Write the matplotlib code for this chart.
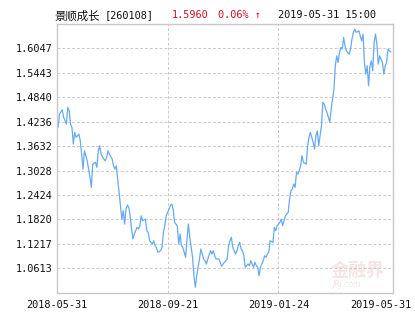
import matplotlib
matplotlib.use("Agg")
import matplotlib.pyplot as plt
import matplotlib.transforms as mtransforms

# trading day index (0 = 2018-05-31) and unit NAV
days = [0, 1, 2, 4, 5, 7, 8, 9, 10, 11, 12, 13, 14, 16, 17, 18, 19, 20, 22, 23,
        24, 25, 26, 28, 29, 30, 31, 32, 34, 35, 36, 37, 38, 40, 41, 42,
        43, 44, 45, 46, 47, 48, 49, 50, 51, 52,
        53, 54, 55, 56, 58, 59, 60, 61, 62, 64, 65, 66, 67, 69, 70, 71, 72, 73, 75, 76, 77,
        78, 79, 81, 82, 83, 84, 85, 87, 88, 89, 90, 91, 93, 94, 95, 96, 97, 98, 99,
        100, 101, 103, 104, 105, 106, 107, 108, 109, 111, 112, 113, 114, 115, 117, 118, 119, 120,
        121, 123, 124, 125, 126, 127, 129, 130, 131, 132, 133, 134, 135, 136, 138, 139, 140,
        141, 142, 143, 144, 145, 146, 147, 148, 149, 150, 151, 152, 153, 154, 156, 157,
        158, 159, 161, 162, 163, 164, 165, 167, 168, 169, 170, 171, 172, 173, 174, 175, 176,
        177, 178, 180, 181, 182, 183, 185, 186, 187, 188, 189, 191, 192, 193, 194, 195, 196,
        197, 198, 200, 201, 202, 203, 204, 205, 206, 207, 208, 209, 211, 212, 213, 214, 215,
        216, 218, 219, 220, 221, 222, 223, 224, 225, 226, 227, 228, 229, 230, 231, 232, 233,
        235, 236, 237, 238, 239, 240, 241]
nav = [1.4300, 1.4095, 1.4424, 1.4530, 1.4342, 1.4177, 1.4590, 1.4506, 1.4177, 1.4095,
       1.3683, 1.3972, 1.3848, 1.3930, 1.3764, 1.3436, 1.3065, 1.3517, 1.3270, 1.3065,
       1.2860, 1.2613, 1.3189, 1.3231, 1.3107, 1.3517, 1.3641, 1.3436, 1.3312, 1.3270,
       1.3354, 1.3517, 1.3436, 1.3312, 1.3147, 1.3065,
       1.3147, 1.2818, 1.2490, 1.2159, 1.1830, 1.2035, 1.1706, 1.2077, 1.2176, 1.2119,
       1.1911, 1.1583, 1.1336, 1.1459, 1.1625, 1.1583, 1.1664, 1.1911, 1.1788, 1.1830,
       1.1541, 1.1501, 1.1294, 1.1212, 1.1294, 1.1170, 1.1114, 1.1007, 1.1047, 1.1131, 1.1501,
       1.1664, 1.1911, 1.2077, 1.2159, 1.2201, 1.2077, 1.1748, 1.1664, 1.1212, 1.1459,
       1.1170, 1.1131, 1.0884, 1.1336, 1.1706, 1.1378, 1.1131, 1.0884, 1.0429,
       1.0143, 1.0429, 1.0842, 1.1089, 1.0965, 1.0842, 1.0800, 1.0718, 1.0842, 1.1047,
       1.0965, 1.1047, 1.0923, 1.0842, 1.0842, 1.0760, 1.0661, 1.0718,
       1.0760, 1.0842, 1.1170, 1.1294, 1.1378, 1.1131, 1.0965, 1.1047, 1.1170, 1.1254,
       1.1089, 1.1047, 1.0923, 1.0637, 1.0718, 1.0676, 1.0800,
       1.0718, 1.0637, 1.0760, 1.0676, 1.0637, 1.0429, 1.0637, 1.0718, 1.0800, 1.0923,
       1.0884, 1.0965, 1.1007, 1.1294, 1.1254, 1.1625,
       1.1541, 1.1664, 1.1748, 1.1830, 1.1664, 1.1788, 1.1911, 1.1995, 1.2324, 1.2529,
       1.2571, 1.2695, 1.2613, 1.2984, 1.2942, 1.3023, 1.3147,
       1.3394, 1.3231, 1.3189, 1.3641, 1.3848, 1.3972, 1.3725, 1.3559, 1.3888, 1.4011,
       1.3641, 1.4135, 1.4713, 1.4671, 1.4547, 1.4466, 1.4342,
       1.4219, 1.4547, 1.5042, 1.5617, 1.5864, 1.5701, 1.5948, 1.6072, 1.6030, 1.6319,
       1.6111, 1.5988, 1.5906, 1.6030, 1.6277, 1.6442, 1.6524,
       1.6442, 1.6482, 1.6358, 1.6235, 1.6400, 1.5701, 1.5412, 1.5617, 1.5123, 1.5617,
       1.5741, 1.5494, 1.6195, 1.6400, 1.6153, 1.5659, 1.5864,
       1.5701, 1.5412, 1.5617, 1.5701, 1.6030, 1.5988, 1.5960]

y_ticks = [1.0613, 1.1217, 1.1820, 1.2424, 1.3028, 1.3632, 1.4236, 1.4840, 1.5443, 1.6047]
x_tick_days = [0, 80, 160, 241]
x_tick_labels = ["2018-05-31", "2018-09-21", "2019-01-24", "2019-05-31"]

fund_name = "景顺成长"
fund_code = "[260108]"
last_nav = "1.5960"
change = "0.06% ↑"
stamp = "2019-05-31 15:00"

W, H = 415, 330
fig = plt.figure(figsize=(W / 100, H / 100), dpi=100)
ax = fig.add_axes([56.7 / W, 1 - 292.7 / H, (392.7 - 56.7) / W, (292.7 - 24) / H])

ax.plot(days, nav, color="#66abef", lw=0.9, solid_joinstyle="round")

ax.set_xlim(0, 242.4)
ax.set_ylim(1.0009, 1.6651)

mono = ["DejaVu Sans Mono", "DejaVu Sans"]
ax.set_yticks(y_ticks)
ax.set_yticklabels(["%.4f" % v for v in y_ticks], family=mono, fontsize=7.4)
ax.set_xticks(x_tick_days)
ax.set_xticklabels(x_tick_labels, family=mono, fontsize=7.4)
ax.tick_params(length=0, pad=3, colors="#111111")
ax.tick_params(axis="x", pad=5)

# last date label sits a bit left of the right edge
lab = ax.get_xticklabels()[-1]
lab.set_transform(lab.get_transform() + mtransforms.ScaledTranslation(-10 / 100, 0, fig.dpi_scale_trans))

ax.grid(axis="y", color="#cacaca", ls=(0, (3, 2)), lw=0.7)
for d in x_tick_days[1:-1]:
    ax.axvline(d, color="#cacaca", ls=(0, (3, 2)), lw=0.7, zorder=0)

for s in ax.spines.values():
    s.set_color("#c8c8c8")
    s.set_linewidth(1.0)

# header line
ty = 1 - 15.5 / H
fig.text(55 / W, ty, fund_name, family=["Noto Sans CJK SC", "DejaVu Sans"], fontsize=8.2,
         va="center", ha="left", color="#111111")
fig.text(105 / W, ty, fund_code, family=mono, fontsize=7.4, va="center", ha="left", color="#111111")
fig.text(171.5 / W, ty, last_nav, family=mono, fontsize=7.4, va="center", ha="left", color="#cc1122")
fig.text(218 / W, ty, change, family=mono, fontsize=7.4, va="center", ha="left", color="#cc1122")
fig.text(278.5 / W, ty, stamp, family=mono, fontsize=7.4, va="center", ha="left", color="#111111")

# faint watermark
ax.text(0.975, 0.085, "金融界", transform=ax.transAxes, family=["Noto Sans CJK SC", "DejaVu Sans"],
        fontsize=13, color="#f7e4e4", ha="right", va="center", fontweight="bold", zorder=0)
ax.text(0.905, 0.03, "JRJ.com", transform=ax.transAxes, family="DejaVu Sans",
        fontsize=5.5, color="#f5e2e2", ha="right", va="center", style="italic", zorder=0)

fig.savefig("out.png", dpi=100)
